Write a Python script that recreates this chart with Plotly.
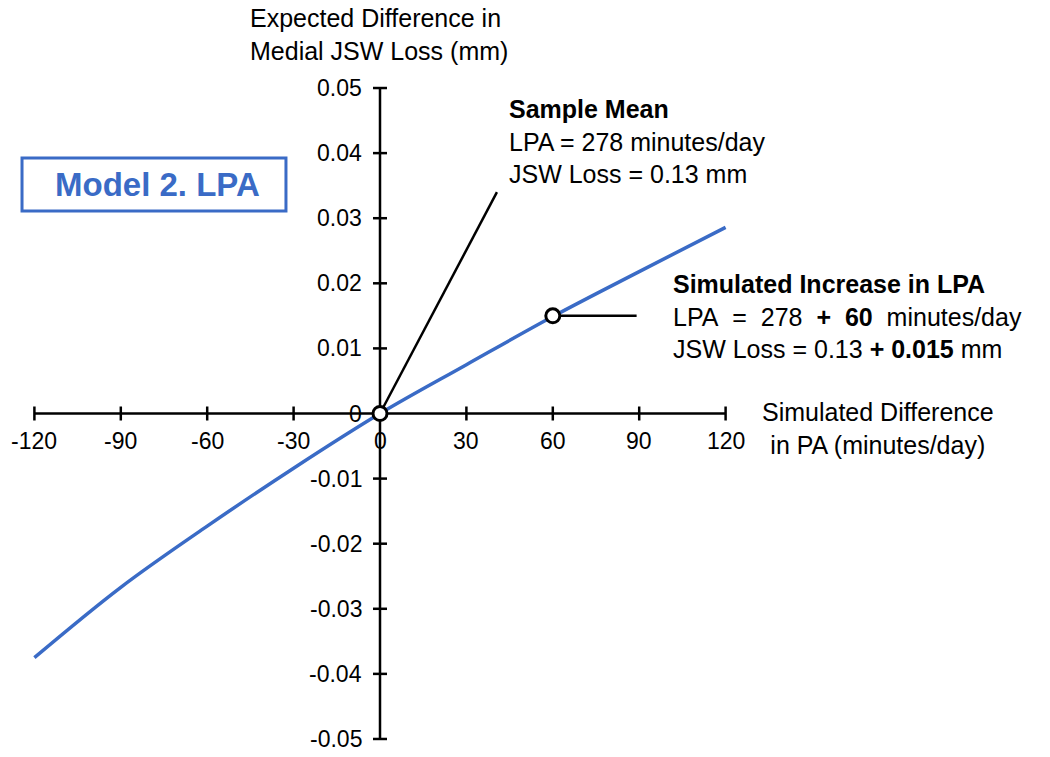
import plotly.graph_objects as go

# Simulated difference in PA (minutes/day) and expected difference in medial JSW loss (mm)
pa_diff = [-120, -90, -60, -30, 0, 30, 60, 90, 120]
jsw_diff = [-0.0375, -0.0267, -0.0173, -0.0084, 0.0, 0.0075, 0.0149, 0.0218, 0.0286]

x_ticks = [-120, -90, -60, -30, 0, 30, 60, 90, 120]
y_ticks = [-0.05, -0.04, -0.03, -0.02, -0.01, 0, 0.01, 0.02, 0.03, 0.04, 0.05]
y_tick_labels = ["-0.05", "-0.04", "-0.03", "-0.02", "-0.01", "0", "0.01", "0.02", "0.03", "0.04", "0.05"]

# highlighted points
mean_point = (0, 0.0)
sim_point = (60, 0.015)

# leader line ends
mean_leader_end = (40.6, 0.034)
sim_leader_end = 89.1

BLUE = "#3a6bc6"
FONT = "Liberation Sans, Arial, sans-serif"

fig = go.Figure()

# curve
fig.add_trace(go.Scatter(x=pa_diff, y=jsw_diff, mode="lines",
                         line=dict(color=BLUE, width=3.5, shape="spline"),
                         hoverinfo="skip", showlegend=False))

# leader lines
fig.add_trace(go.Scatter(x=[mean_point[0], mean_leader_end[0]], y=[mean_point[1], mean_leader_end[1]],
                         mode="lines", line=dict(color="black", width=2.5),
                         hoverinfo="skip", showlegend=False))
fig.add_trace(go.Scatter(x=[sim_point[0], sim_leader_end], y=[sim_point[1], sim_point[1]],
                         mode="lines", line=dict(color="black", width=2.5),
                         hoverinfo="skip", showlegend=False))

# open circles
fig.add_trace(go.Scatter(x=[mean_point[0], sim_point[0]], y=[mean_point[1], sim_point[1]],
                         mode="markers",
                         marker=dict(size=14, color="white", line=dict(color="black", width=3)),
                         hoverinfo="skip", showlegend=False))

shapes = []
# axes
shapes.append(dict(type="line", xref="x", yref="y", x0=x_ticks[0], x1=x_ticks[-1], y0=0, y1=0,
                   line=dict(color="black", width=2.5), layer="below"))
shapes.append(dict(type="line", xref="x", yref="y", x0=0, x1=0, y0=y_ticks[0], y1=y_ticks[-1],
                   line=dict(color="black", width=2.5), layer="below"))
# tick marks
for t in x_ticks:
    shapes.append(dict(type="line", xref="x", yref="y", x0=t, x1=t,
                       ysizemode="pixel", yanchor=0, y0=-7, y1=7,
                       line=dict(color="black", width=2.5), layer="below"))
for t in y_ticks:
    shapes.append(dict(type="line", xref="x", yref="y", y0=t, y1=t,
                       xsizemode="pixel", xanchor=0, x0=-7, x1=7,
                       line=dict(color="black", width=2.5), layer="below"))
# model box
shapes.append(dict(type="rect", xref="paper", yref="paper", x0=0.0028, x1=0.3694, y0=0.7991, y1=0.8774,
                   line=dict(color=BLUE, width=3), fillcolor="rgba(0,0,0,0)"))

annotations = []
for t in x_ticks:
    annotations.append(dict(x=t, y=0, xref="x", yref="y", text=str(t), showarrow=False,
                            xanchor="center", yanchor="middle", yshift=-27,
                            font=dict(size=23, color="black", family=FONT)))
for t, lab in zip(y_ticks, y_tick_labels):
    annotations.append(dict(x=0, y=t, xref="x", yref="y", text=lab, showarrow=False,
                            xanchor="right", yanchor="middle", xshift=-16,
                            font=dict(size=23, color="black", family=FONT)))

nb = "\u00a0\u00a0"
annotations += [
    dict(x=0.3167, y=1.0591, xref="paper", yref="paper", showarrow=False,
         text="Expected Difference in<br>Medial JSW Loss (mm)", align="left",
         xanchor="left", yanchor="middle", font=dict(size=25, color="black", family=FONT)),
    dict(x=1.1917, y=0.4778, xref="paper", yref="paper", showarrow=False,
         text="Simulated Difference<br>in PA (minutes/day)", align="center",
         xanchor="center", yanchor="middle", font=dict(size=25, color="black", family=FONT)),
    dict(x=0.6764, y=0.9018, xref="paper", yref="paper", showarrow=False,
         text="<b>Sample Mean</b><br>LPA = 278 minutes/day<br>JSW Loss = 0.13 mm", align="left",
         xanchor="left", yanchor="middle", font=dict(size=25, color="black", family=FONT)),
    dict(x=0.9038, y=0.6440, xref="paper", yref="paper", showarrow=False,
         text=("<b>Simulated Increase in LPA</b><br>"
               f"LPA{nb}={nb}278{nb}<b>+{nb}60</b>{nb}minutes/day<br>"
               "JSW Loss = 0.13 <b>+ 0.015</b> mm"),
         align="left", xanchor="left", yanchor="middle",
         font=dict(size=25, color="black", family=FONT)),
    dict(x=0.1910, y=0.8383, xref="paper", yref="paper", showarrow=False,
         text="<b>Model 2. LPA</b>", xanchor="center", yanchor="middle",
         font=dict(size=33, color=BLUE, family=FONT)),
]

fig.update_layout(
    width=1050, height=757,
    margin=dict(l=20, r=310, t=75, b=5, autoexpand=False),
    paper_bgcolor="white", plot_bgcolor="white",
    xaxis=dict(range=[-125, 125], visible=False, fixedrange=True),
    yaxis=dict(range=[-0.052, 0.052], visible=False, fixedrange=True),
    shapes=shapes, annotations=annotations,
    font=dict(family=FONT),
)

# drop the browser's default body margin so the figure sits at the page corner
fig.write_html("out.html", config={"displayModeBar": False},
               post_script="document.body.style.margin='0';")
